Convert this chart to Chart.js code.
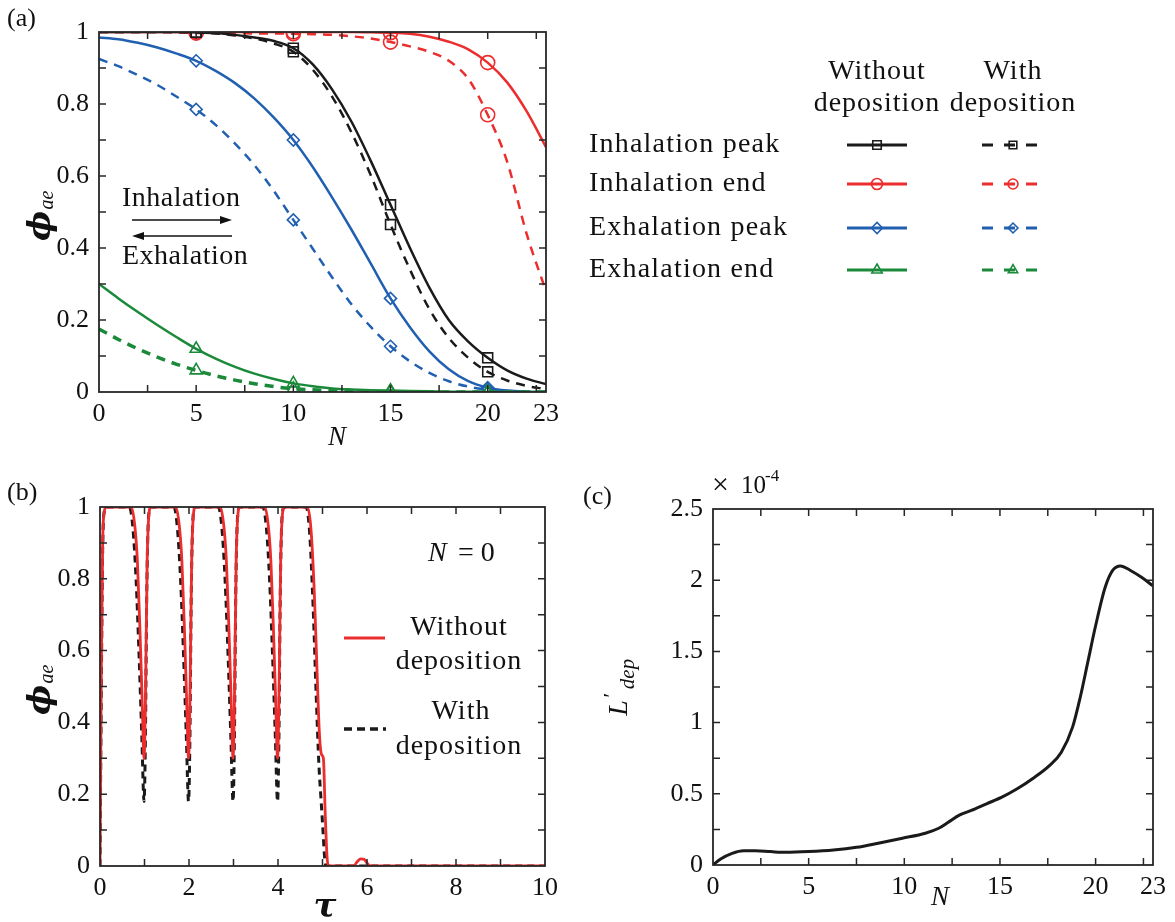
<!DOCTYPE html>
<html>
<head>
<meta charset="utf-8">
<script src="https://cdn.jsdelivr.net/npm/chart.js@4.4.1/dist/chart.umd.min.js"></script>
<style>
  html, body { margin: 0; padding: 0; background: #fff; }
  body { width: 1175px; height: 922px; position: relative; overflow: hidden; }
  canvas { position: absolute; }
  #chart-a { left: 0; top: 0; }
  #chart-b { left: 0; top: 460px; }
  #chart-c { left: 570px; top: 460px; }
</style>
</head>
<body>
<canvas id="chart-a" width="1175" height="460"></canvas>
<canvas id="chart-b" width="570" height="462"></canvas>
<canvas id="chart-c" width="605" height="462"></canvas>
<script>
const SERIF = '"Liberation Serif", "Times New Roman", serif';
const BLACK = '#1a1a1a';
const RED = '#ec2d2d';
const BLUE = '#2160b0';
const GREEN = '#1a8a3a';

// (a) phi_ae versus generation N
const generationsA = [0, 1, 2, 3, 4, 5, 6, 7, 8, 9, 10, 11, 12, 13, 14, 15, 16, 17, 18, 19, 20, 21, 22, 23];
const markerGenerations = [5, 10, 15, 20];
const inhalationPeakWithout = [1, 1, 1, 1, 1, 0.999, 0.997, 0.992, 0.985, 0.975, 0.955, 0.91, 0.84, 0.75, 0.64, 0.52, 0.4, 0.29, 0.2, 0.14, 0.095, 0.06, 0.037, 0.022];
const inhalationPeakWith = [1, 1, 1, 1, 1, 0.999, 0.996, 0.99, 0.982, 0.968, 0.945, 0.895, 0.82, 0.72, 0.6, 0.465, 0.34, 0.23, 0.15, 0.095, 0.056, 0.032, 0.017, 0.008];
const inhalationEndWithout = [1, 1, 1, 1, 1, 1, 1, 1, 1, 1, 1, 1, 1, 1, 0.999, 0.998, 0.995, 0.987, 0.973, 0.952, 0.915, 0.86, 0.78, 0.68];
const inhalationEndWith = [1, 1, 1, 1, 0.999, 0.997, 0.997, 0.997, 0.996, 0.996, 0.995, 0.994, 0.992, 0.988, 0.982, 0.972, 0.96, 0.945, 0.92, 0.87, 0.77, 0.64, 0.44, 0.28];
const exhalationPeakWithout = [0.985, 0.98, 0.97, 0.957, 0.94, 0.92, 0.892, 0.858, 0.815, 0.762, 0.7, 0.625, 0.54, 0.45, 0.355, 0.26, 0.18, 0.113, 0.063, 0.03, 0.012, 0.004, 0.001, 0];
const exhalationPeakWith = [0.925, 0.905, 0.88, 0.853, 0.82, 0.785, 0.742, 0.69, 0.63, 0.558, 0.478, 0.398, 0.318, 0.243, 0.18, 0.127, 0.085, 0.053, 0.03, 0.015, 0.007, 0.003, 0.001, 0];
const exhalationEndWithout = [0.3, 0.26, 0.222, 0.186, 0.152, 0.12, 0.093, 0.07, 0.051, 0.036, 0.024, 0.016, 0.01, 0.007, 0.005, 0.004, 0.003, 0.002, 0.001, 0.001, 0, 0, 0, 0];
const exhalationEndWith = [0.175, 0.146, 0.12, 0.097, 0.077, 0.06, 0.045, 0.033, 0.023, 0.015, 0.009, 0.006, 0.004, 0.003, 0.002, 0.001, 0.001, 0, 0, 0, 0, 0, 0, 0];
const xTickLabelsA = [0, 5, 10, 15, 20, 23];
const yTickLabelsA = [0, 0.2, 0.4, 0.6, 0.8, 1];
const xMinorTicksA = [2.5, 5, 7.5, 10, 12.5, 15, 17.5, 20, 22.5];
const yMinorTicksA = [0.1, 0.2, 0.3, 0.4, 0.5, 0.6, 0.7, 0.8, 0.9];
const legendRowsA = ['Inhalation peak', 'Inhalation end', 'Exhalation peak', 'Exhalation end'];

// (b) phi_ae versus time at N = 0
const tauWithout = [0, 0.03, 0.06, 0.1, 0.14,
  0.7, 0.78, 0.84, 0.9, 0.95, 0.99, 1.02, 1.06, 1.1, 1.14,
  1.7, 1.78, 1.84, 1.9, 1.95, 1.99, 2.02, 2.06, 2.1, 2.14,
  2.7, 2.78, 2.84, 2.9, 2.95, 2.99, 3.02, 3.06, 3.1, 3.14,
  3.7, 3.78, 3.84, 3.9, 3.95, 3.99, 4.02, 4.06, 4.1, 4.14,
  4.66, 4.74, 4.81, 4.87, 4.93, 4.98, 5.02, 5.06, 5.1, 5.13,
  5.7, 5.78, 5.86, 5.94, 6.02, 6.08, 10];
const phiWithout = [0, 0.55, 0.9, 0.99, 1,
  1, 0.95, 0.85, 0.65, 0.45, 0.3, 0.45, 0.85, 0.98, 1,
  1, 0.95, 0.85, 0.65, 0.45, 0.3, 0.45, 0.85, 0.98, 1,
  1, 0.95, 0.85, 0.65, 0.45, 0.3, 0.45, 0.85, 0.98, 1,
  1, 0.95, 0.85, 0.65, 0.45, 0.3, 0.45, 0.85, 0.98, 1,
  1, 0.94, 0.78, 0.57, 0.37, 0.31, 0.3, 0.15, 0.03, 0,
  0, 0.012, 0.02, 0.018, 0.005, 0, 0];
const tauWith = [0, 0.03, 0.06, 0.1, 0.14,
  0.66, 0.74, 0.81, 0.88, 0.94, 0.99, 1.02, 1.05, 1.09, 1.14,
  1.66, 1.74, 1.81, 1.88, 1.94, 1.99, 2.02, 2.05, 2.09, 2.14,
  2.66, 2.74, 2.81, 2.88, 2.94, 2.99, 3.02, 3.05, 3.09, 3.14,
  3.66, 3.74, 3.81, 3.88, 3.94, 3.99, 4.02, 4.05, 4.09, 4.14,
  4.63, 4.71, 4.79, 4.86, 4.92, 4.97, 5.01, 5.05, 5.08, 10];
const phiWith = [0, 0.5, 0.88, 0.99, 1,
  1, 0.94, 0.8, 0.58, 0.36, 0.18, 0.35, 0.75, 0.97, 1,
  1, 0.94, 0.8, 0.58, 0.36, 0.18, 0.35, 0.75, 0.97, 1,
  1, 0.94, 0.8, 0.58, 0.36, 0.18, 0.35, 0.75, 0.97, 1,
  1, 0.94, 0.8, 0.58, 0.36, 0.18, 0.35, 0.75, 0.97, 1,
  1, 0.93, 0.72, 0.47, 0.28, 0.18, 0.1, 0.02, 0, 0];
const xTickLabelsB = [0, 2, 4, 6, 8, 10];
const yTickLabelsB = [0, 0.2, 0.4, 0.6, 0.8, 1];
const xMinorTicksB = [1, 2, 3, 4, 5, 6, 7, 8, 9];
const yMinorTicksB = [0.1, 0.2, 0.3, 0.4, 0.5, 0.6, 0.7, 0.8, 0.9];

// (c) L'_dep (x 1e-4) versus generation N
const generationsC = [0, 0.4, 1.0, 1.6, 2.2, 3.0, 3.8, 5.0, 6.3, 7.5, 8.7, 9.9, 11.1, 11.8, 12.3, 12.9, 13.5, 14.3, 15.1, 15.9, 16.7, 17.6, 18.2, 18.8, 19.2, 19.6, 20.0, 20.5, 20.9, 21.3, 21.8, 22.4, 23];
const depositionLength = [0, 0.042, 0.082, 0.1, 0.1, 0.094, 0.089, 0.094, 0.105, 0.124, 0.155, 0.188, 0.223, 0.258, 0.3, 0.352, 0.383, 0.43, 0.476, 0.535, 0.606, 0.7, 0.79, 0.97, 1.18, 1.43, 1.68, 1.95, 2.07, 2.1, 2.07, 2.02, 1.96];
const xTickLabelsC = [0, 5, 10, 15, 20, 23];
const yTickLabelsC = [0, 0.5, 1, 1.5, 2, 2.5];
const xMinorTicksC = [2.5, 5, 7.5, 10, 12.5, 15, 17.5, 20, 22.5];
const yMinorTicksC = [0.25, 0.5, 0.75, 1, 1.25, 1.5, 1.75, 2, 2.25];

function toPoints(xs, ys) {
  return xs.map((x, i) => ({ x: x, y: ys[i] }));
}

// Axis boxes get a fixed size so the plot frames land where the figure has them
function axisOptions(min, max, tickValues, isX) {
  return {
    type: 'linear',
    min: min,
    max: max,
    grid: { display: false, drawTicks: false },
    border: { display: false },
    afterBuildTicks: (scale) => { scale.ticks = tickValues.map((v) => ({ value: v })); },
    afterFit: (scale) => { if (isX) { scale.height = 50; } else { scale.width = 80; } },
    ticks: {
      autoSkip: false,
      maxRotation: 0,
      padding: isX ? 7 : 10,
      color: '#111',
      font: { family: SERIF, size: 26 },
      callback: (value) => String(value),
    },
  };
}

// Frame box with inward ticks on all four sides
function frameTicks(xTicks, yTicks) {
  return {
    id: 'frameTicks',
    afterDatasetsDraw(chart) {
      const { ctx, chartArea: area, scales } = chart;
      ctx.save();
      ctx.strokeStyle = '#262626';
      ctx.lineWidth = 1.5;
      ctx.beginPath();
      for (const v of xTicks) {
        const px = scales.x.getPixelForValue(v);
        ctx.moveTo(px, area.bottom); ctx.lineTo(px, area.bottom - 7);
        ctx.moveTo(px, area.top); ctx.lineTo(px, area.top + 7);
      }
      for (const v of yTicks) {
        const py = scales.y.getPixelForValue(v);
        ctx.moveTo(area.left, py); ctx.lineTo(area.left + 7, py);
        ctx.moveTo(area.right, py); ctx.lineTo(area.right - 7, py);
      }
      ctx.stroke();
      ctx.lineWidth = 1.8;
      ctx.strokeRect(area.left, area.top, area.right - area.left, area.bottom - area.top);
      ctx.restore();
    },
  };
}

function text(ctx, str, x, y, font, align, spacing) {
  ctx.font = font;
  ctx.letterSpacing = spacing || '0px';
  ctx.textAlign = align || 'left';
  ctx.textBaseline = 'middle';
  ctx.fillStyle = '#111';
  ctx.fillText(str, x, y);
  ctx.letterSpacing = '0px';
}

function marker(ctx, style, x, y, r, color) {
  ctx.save();
  ctx.strokeStyle = color;
  ctx.fillStyle = 'rgba(0,0,0,0)';
  ctx.lineWidth = 1.6;
  Chart.helpers.drawPoint(ctx, { pointStyle: style, radius: r, borderWidth: 1.6, rotation: 0 }, x, y);
  ctx.restore();
}

function line(ctx, x1, y1, x2, y2, color, width, dash) {
  ctx.save();
  ctx.strokeStyle = color;
  ctx.lineWidth = width;
  ctx.setLineDash(dash || []);
  ctx.beginPath();
  ctx.moveTo(x1, y1);
  ctx.lineTo(x2, y2);
  ctx.stroke();
  ctx.restore();
}

function arrow(ctx, x1, x2, y) {
  const dir = Math.sign(x2 - x1);
  line(ctx, x1, y, x2 - dir * 8, y, '#111', 1.6);
  ctx.save();
  ctx.fillStyle = '#111';
  ctx.beginPath();
  ctx.moveTo(x2, y);
  ctx.lineTo(x2 - dir * 12, y - 4);
  ctx.lineTo(x2 - dir * 12, y + 4);
  ctx.closePath();
  ctx.fill();
  ctx.restore();
}

// Rotated phi_ae label
function phiLabel(ctx, cx, cy) {
  ctx.save();
  ctx.translate(cx, cy);
  ctx.rotate(-Math.PI / 2);
  text(ctx, '\u03D5', 0, 0, 'bold italic 32px "DejaVu Serif", serif', 'center');
  text(ctx, 'ae', 26, 6, 'italic 20px ' + SERIF, 'center');
  ctx.restore();
}

function seriesA(values, color, dashed, style, radius, width) {
  return {
    data: toPoints(generationsA, values),
    borderColor: color,
    borderWidth: width || 2.5,
    borderDash: dashed ? [9, 7] : [],
    pointStyle: style,
    pointRadius: (c) => (markerGenerations.includes(c.dataIndex) ? radius : 0),
    pointBorderWidth: 1.6,
    pointBorderColor: color,
    pointBackgroundColor: 'rgba(0,0,0,0)',
    cubicInterpolationMode: 'monotone',
  };
}

const legendSeriesA = [
  { color: BLACK, style: 'rect', r: 6 },
  { color: RED, style: 'circle', r: 5.5 },
  { color: BLUE, style: 'rectRot', r: 5.5 },
  { color: GREEN, style: 'triangle', r: 6 },
];
const legendRowY = [145, 184, 228, 270];
const LEGEND_FONT = '28px ' + SERIF;

const annotationsA = {
  id: 'annotationsA',
  afterDraw(chart) {
    const ctx = chart.ctx;
    ctx.save();
    text(ctx, '(a)', 7, 19, '26px ' + SERIF);
    text(ctx, 'N', 337, 438, 'italic 27px ' + SERIF, 'center');
    phiLabel(ctx, 42, 226);
    text(ctx, 'Inhalation', 122, 199, LEGEND_FONT, 'left', '0.5px');
    arrow(ctx, 132, 232, 220);
    arrow(ctx, 232, 132, 236);
    text(ctx, 'Exhalation', 122, 257, LEGEND_FONT, 'left', '0.5px');
    text(ctx, 'Without', 877, 72, LEGEND_FONT, 'center', '1px');
    text(ctx, 'deposition', 877, 104, LEGEND_FONT, 'center', '1px');
    text(ctx, 'With', 1013, 72, LEGEND_FONT, 'center', '1px');
    text(ctx, 'deposition', 1013, 104, LEGEND_FONT, 'center', '1px');
    legendRowsA.forEach((label, i) => {
      const y = legendRowY[i];
      const s = legendSeriesA[i];
      text(ctx, label, 589, y, LEGEND_FONT, 'left', '1.2px');
      line(ctx, 847, y, 907, y, s.color, 3);
      marker(ctx, s.style, 877, y, s.r, s.color);
      line(ctx, 982, y, 1042, y, s.color, 3.2, [11, 11]);
      marker(ctx, s.style, 1013, y, s.r * 0.9, s.color);
    });
    ctx.restore();
  },
};

new Chart(document.getElementById('chart-a'), {
  type: 'line',
  data: {
    datasets: [
      seriesA(exhalationEndWith, GREEN, true, 'triangle', 7, 3.5),
      seriesA(exhalationEndWithout, GREEN, false, 'triangle', 7),
      seriesA(exhalationPeakWith, BLUE, true, 'rectRot', 6),
      seriesA(exhalationPeakWithout, BLUE, false, 'rectRot', 6),
      seriesA(inhalationPeakWith, BLACK, true, 'rect', 7),
      seriesA(inhalationPeakWithout, BLACK, false, 'rect', 7),
      seriesA(inhalationEndWith, RED, true, 'circle', 7),
      seriesA(inhalationEndWithout, RED, false, 'circle', 7),
    ],
  },
  options: {
    responsive: false,
    animation: false,
    layout: { padding: { left: 19, top: 32, right: 629, bottom: 18 } },
    plugins: { legend: { display: false }, tooltip: { enabled: false } },
    scales: {
      x: axisOptions(0, 23, xTickLabelsA, true),
      y: axisOptions(0, 1, yTickLabelsA, false),
    },
  },
  plugins: [frameTicks(xMinorTicksA, yMinorTicksA), annotationsA],
});

const annotationsB = {
  id: 'annotationsB',
  afterDraw(chart) {
    const ctx = chart.ctx;
    ctx.save();
    text(ctx, '(b)', 7, 33, '26px ' + SERIF);
    text(ctx, '\u03C4', 325, 448, 'bold italic 34px "DejaVu Serif", serif', 'center');
    phiLabel(ctx, 42, 700 - 460);
    text(ctx, 'N', 428, 94, 'italic 28px ' + SERIF);
    text(ctx, '= 0', 458, 94, '28px ' + SERIF);
    line(ctx, 344, 178, 385, 178, RED, 3);
    text(ctx, 'Without', 459, 168, LEGEND_FONT, 'center', '1px');
    text(ctx, 'deposition', 459, 202, LEGEND_FONT, 'center', '1px');
    line(ctx, 344, 269, 386, 269, BLACK, 3.5, [8, 5]);
    text(ctx, 'With', 461, 252, LEGEND_FONT, 'center', '1px');
    text(ctx, 'deposition', 459, 287, LEGEND_FONT, 'center', '1px');
    ctx.restore();
  },
};

new Chart(document.getElementById('chart-b'), {
  type: 'line',
  data: {
    datasets: [
      {
        data: toPoints(tauWithout, phiWithout),
        borderColor: RED,
        borderWidth: 2.8,
        pointRadius: 0,
        cubicInterpolationMode: 'monotone',
      },
      {
        data: toPoints(tauWith, phiWith),
        borderColor: BLACK,
        borderWidth: 3,
        borderDash: [7, 5],
        pointRadius: 0,
        cubicInterpolationMode: 'monotone',
      },
    ],
  },
  options: {
    responsive: false,
    animation: false,
    layout: { padding: { left: 20, top: 47, right: 25, bottom: 6 } },
    plugins: { legend: { display: false }, tooltip: { enabled: false } },
    scales: {
      x: axisOptions(0, 10, xTickLabelsB, true),
      y: axisOptions(0, 1, yTickLabelsB, false),
    },
  },
  plugins: [frameTicks(xMinorTicksB, yMinorTicksB), annotationsB],
});

const annotationsC = {
  id: 'annotationsC',
  afterDraw(chart) {
    const ctx = chart.ctx;
    ctx.save();
    text(ctx, '(c)', 13, 37, '26px ' + SERIF);
    text(ctx, '\u00D7', 142, 26, '30px ' + SERIF);
    text(ctx, '10', 171, 26, '25px ' + SERIF);
    text(ctx, '-4', 195, 17, '17px ' + SERIF);
    text(ctx, 'N', 370, 438, 'italic 27px ' + SERIF, 'center');
    ctx.save();
    ctx.translate(50, 248);
    ctx.rotate(-Math.PI / 2);
    text(ctx, 'L', 0, 0, 'italic 28px ' + SERIF, 'center');
    text(ctx, '\u2032', 13, -8, '22px ' + SERIF, 'center');
    text(ctx, 'dep', 34, 8, 'italic 21px ' + SERIF, 'center');
    ctx.restore();
    ctx.restore();
  },
};

new Chart(document.getElementById('chart-c'), {
  type: 'line',
  data: {
    datasets: [
      {
        data: toPoints(generationsC, depositionLength),
        borderColor: BLACK,
        borderWidth: 3,
        pointRadius: 0,
        cubicInterpolationMode: 'monotone',
      },
    ],
  },
  options: {
    responsive: false,
    animation: false,
    layout: { padding: { left: 63, top: 49, right: 22, bottom: 7 } },
    plugins: { legend: { display: false }, tooltip: { enabled: false } },
    scales: {
      x: axisOptions(0, 23, xTickLabelsC, true),
      y: axisOptions(0, 2.5, yTickLabelsC, false),
    },
  },
  plugins: [frameTicks(xMinorTicksC, yMinorTicksC), annotationsC],
});
</script>
</body>
</html>
